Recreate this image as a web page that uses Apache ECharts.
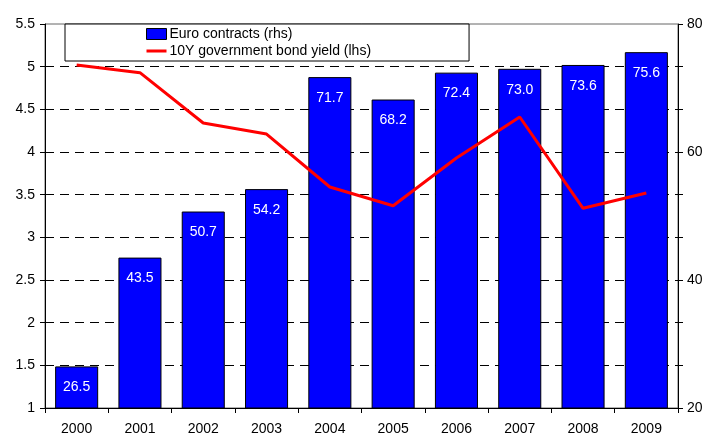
<!DOCTYPE html>
<html>
<head>
<meta charset="utf-8">
<script src="https://cdn.jsdelivr.net/npm/echarts@6/dist/echarts.min.js"></script>
<style>
html,body{margin:0;padding:0;background:#fff;}
#chart{width:707px;height:436px;}
</style>
</head>
<body>
<div id="chart"></div>
<script>
var years = ['2000','2001','2002','2003','2004','2005','2006','2007','2008','2009'];
var euroContracts = [26.5, 43.5, 50.7, 54.2, 71.7, 68.2, 72.4, 73.0, 73.6, 75.6];
var bondYield = [5.02, 4.93, 4.34, 4.21, 3.59, 3.37, 3.93, 4.41, 3.34, 3.52];
var barName = 'Euro contracts (rhs)';
var lineName = '10Y government bond yield (lhs)';

var font = 'Liberation Sans, Arial, sans-serif';
var chart = echarts.init(document.getElementById('chart'), null, {renderer: 'canvas'});
var gridColors = ['rgba(0,0,0,0)','#000','#000','#000','#000','#000','#000','#000','#000','rgba(0,0,0,0)'];
var lineIcon = 'path://M0,0 L0.01,0 L0.01,0.01 Z M0,4 L20,4 L20,7 L0,7 Z M19.99,11 L20,11 L20,10.99 Z';
chart.setOption({
  animation: false,
  backgroundColor: '#fff',
  textStyle: {fontFamily: font},
  grid: {left: 45, right: 29, top: 24, bottom: 28, show: true, borderColor: '#666', borderWidth: 1, backgroundColor: 'transparent'},
  legend: {
    orient: 'vertical',
    left: 65, top: 24,
    padding: [3, 98, 3, 81],
    itemGap: 3,
    itemWidth: 20, itemHeight: 11,
    borderColor: '#000', borderWidth: 1,
    backgroundColor: '#fff',
    textStyle: {fontFamily: font, fontSize: 14, color: '#000', padding: [0,0,0,-2]},
    data: [
      {name: barName, icon: 'rect', itemStyle: {color: '#0000ff', borderColor: '#000', borderWidth: 1}},
      {name: lineName, icon: lineIcon, itemStyle: {color: '#ff0000', borderWidth: 0}}
    ]
  },
  xAxis: {
    type: 'category',
    data: years,
    boundaryGap: true,
    axisLine: {lineStyle: {color: '#000', width: 1}},
    axisTick: {show: true, alignWithLabel: false, inside: false, length: 5, lineStyle: {color: '#000'}},
    axisLabel: {color: '#000', fontSize: 14, fontFamily: font, margin: 14}
  },
  yAxis: [
    {
      type: 'value', min: 1, max: 5.5, interval: 0.5, position: 'left',
      axisLine: {show: true, lineStyle: {color: '#000'}},
      axisTick: {show: true, length: 5, lineStyle: {color: '#000'}},
      axisLabel: {color: '#000', fontSize: 14, fontFamily: font, margin: 10},
      splitLine: {show: true, lineStyle: {color: gridColors, type: [9, 6], width: 1}}
    },
    {
      type: 'value', min: 20, max: 80, interval: 60/9, position: 'right',
      axisLine: {show: true, lineStyle: {color: '#000'}},
      axisTick: {show: true, length: 5, lineStyle: {color: '#000'}},
      axisLabel: {color: '#000', fontSize: 14, fontFamily: font, margin: 9,
        formatter: function (v) {
          var r = Math.round(v / 20) * 20;
          return Math.abs(v - r) < 0.01 ? String(r) : '';
        }},
      splitLine: {show: false}
    }
  ],
  series: [
    {
      name: barName, type: 'bar', yAxisIndex: 1,
      data: euroContracts,
      barWidth: '68%',
      itemStyle: {color: '#0000ff', borderColor: '#000', borderWidth: 1},
      label: {show: true, position: 'insideTop', distance: 14, color: '#fff', fontSize: 14, fontFamily: font,
        formatter: function (p) { return p.value.toFixed(1); }},
      z: 2
    },
    {
      name: lineName, type: 'line', yAxisIndex: 0,
      data: bondYield,
      symbol: 'none',
      lineStyle: {color: '#ff0000', width: 3},
      itemStyle: {color: '#ff0000'},
      z: 3
    }
  ]
});
</script>
</body>
</html>
